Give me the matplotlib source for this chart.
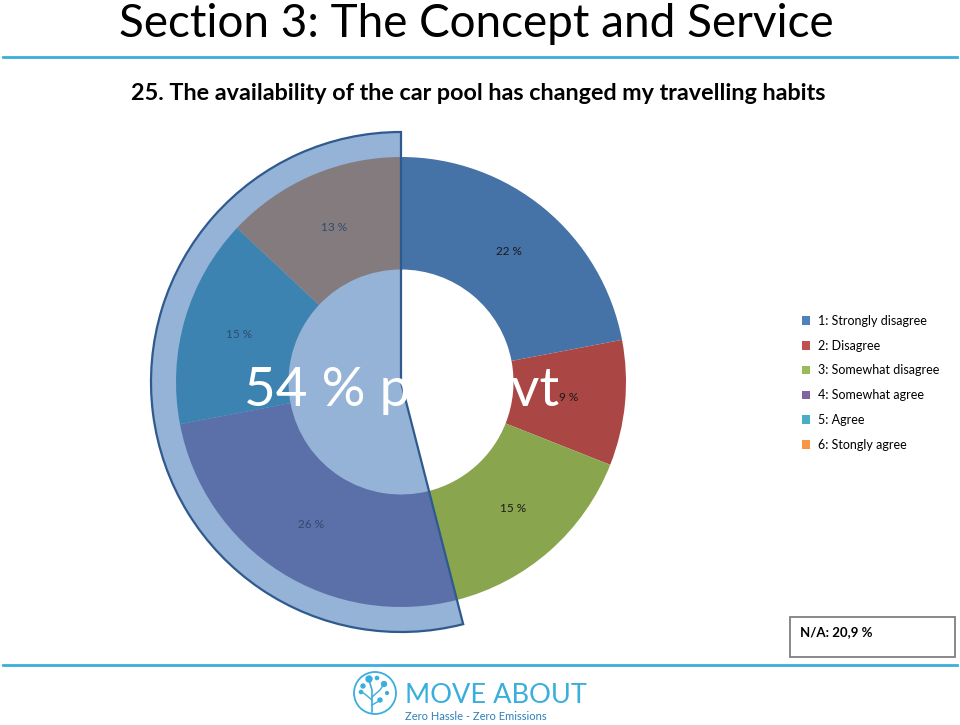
import numpy as np
import matplotlib
matplotlib.use('Agg')
import matplotlib.pyplot as plt
from matplotlib.patches import Wedge, Rectangle, Circle, Patch

plt.rcParams['font.family'] = ['Lato', 'DejaVu Sans']

categories = ['1: Strongly disagree', '2: Disagree', '3: Somewhat disagree',
              '4: Somewhat agree', '5: Agree', '6: Stongly agree']
values = [22, 9, 15, 26, 15, 13]
colors = ['#4572A7', '#AA4643', '#89A54E', '#80699B', '#3D96AE', '#DB843D']
legend_colors = ['#4F81BD', '#C0504D', '#9BBB59', '#8064A2', '#4BACC6', '#F79646']
na_text = 'N/A: 20,9 %'

W, H = 960, 725
fig = plt.figure(figsize=(W / 100, H / 100), dpi=100)

# background axes in pixel units for lines, box, logo
bg = fig.add_axes([0, 0, 1, 1], zorder=-1)
bg.set_xlim(0, W)
bg.set_ylim(H, 0)
bg.axis('off')

bg.plot([3, 957], [57, 57], color='#3AAEDD', lw=2)
bg.plot([3, 957], [665, 665], color='#3AAEDD', lw=2)
bg.add_patch(Rectangle((790, 617), 165, 40, fill=False, edgecolor='#7F7F7F', lw=1.3))

fig.text(476 / W, 1 - 37 / H, 'Section 3: The Concept and Service', fontsize=33,
         ha='center', va='baseline')
fig.text(478 / W, 1 - 100 / H, '25. The availability of the car pool has changed my travelling habits',
         fontsize=16.8, fontweight='bold', ha='center', va='baseline')
fig.text(800 / W, 1 - 636 / H, na_text, fontsize=9.5, fontweight='bold', va='baseline')

# donut
cx, cy, r = 401, 382, 225
half = 260
ax = fig.add_axes([(cx - half) / W, (H - cy - half) / H, 2 * half / W, 2 * half / H])
wedges, texts, autotexts = ax.pie(values, colors=colors, startangle=90, counterclock=False,
                                  radius=1.0, autopct=lambda p: f'{p:.0f} %', pctdistance=0.75,
                                  wedgeprops=dict(width=0.5, edgecolor='none'),
                                  textprops=dict(fontsize=8.5, color='#1A1A1A'))
ax.set_xlim(-half / r, half / r)
ax.set_ylim(-half / r, half / r)
ax.set_aspect('equal')
ax.axis('off')

positive = sum(values[3:])
t1 = 90
t2 = 90 + 360 * positive / sum(values)
ov_r = 250 / r
ax.add_patch(Wedge((0, 0), ov_r, t1, t2, facecolor=(62 / 255, 116 / 255, 182 / 255),
                   alpha=0.55, edgecolor='none', zorder=5))
ax.add_patch(Wedge((0, 0), ov_r, t1, t2, facecolor='none', edgecolor='#2F5A8E', lw=1.6, zorder=6))

fig.text(244 / W, 1 - 406 / H, f'{positive} % positivt', fontsize=39.5, color='white',
         va='baseline', zorder=10)

# legend
handles = [Patch(facecolor=c, edgecolor='none') for c in legend_colors]
fig.legend(handles, categories, loc='upper left', bbox_to_anchor=(797 / W, 1 - 310 / H),
           frameon=False, fontsize=9, handlelength=0.65, handleheight=0.65,
           handletextpad=0.6, labelspacing=1.02, borderaxespad=0)

# logo
lc = '#3AAEDD'
bg.add_patch(Circle((375, 693), 21, fill=False, edgecolor=lc, lw=1.3))
bg.plot([372, 372, 369], [712, 690, 680], color=lc, lw=1.2)
bg.plot([372, 380, 384], [697, 690, 684], color=lc, lw=1.0)
bg.plot([372, 366, 362], [700, 695, 692], color=lc, lw=1.0)
bg.plot([372, 379], [705, 701], color=lc, lw=1.0)
for (x, y, s) in [(369, 679, 3), (363, 686, 2), (384, 684, 2.5), (377, 678, 1.6),
                  (361, 692, 1.6), (380, 700, 2), (387, 693, 1.4)]:
    bg.add_patch(Circle((x, y), s, color=lc))
fig.text(405 / W, 1 - 703 / H, 'MOVE ABOUT', fontsize=19.5, fontweight='normal', color=lc,
         va='baseline')
fig.text(405 / W, 1 - 720 / H, 'Zero Hassle - Zero Emissions', fontsize=8, color='#2E7FB8',
         va='baseline')

fig.savefig('out.png', dpi=100)
